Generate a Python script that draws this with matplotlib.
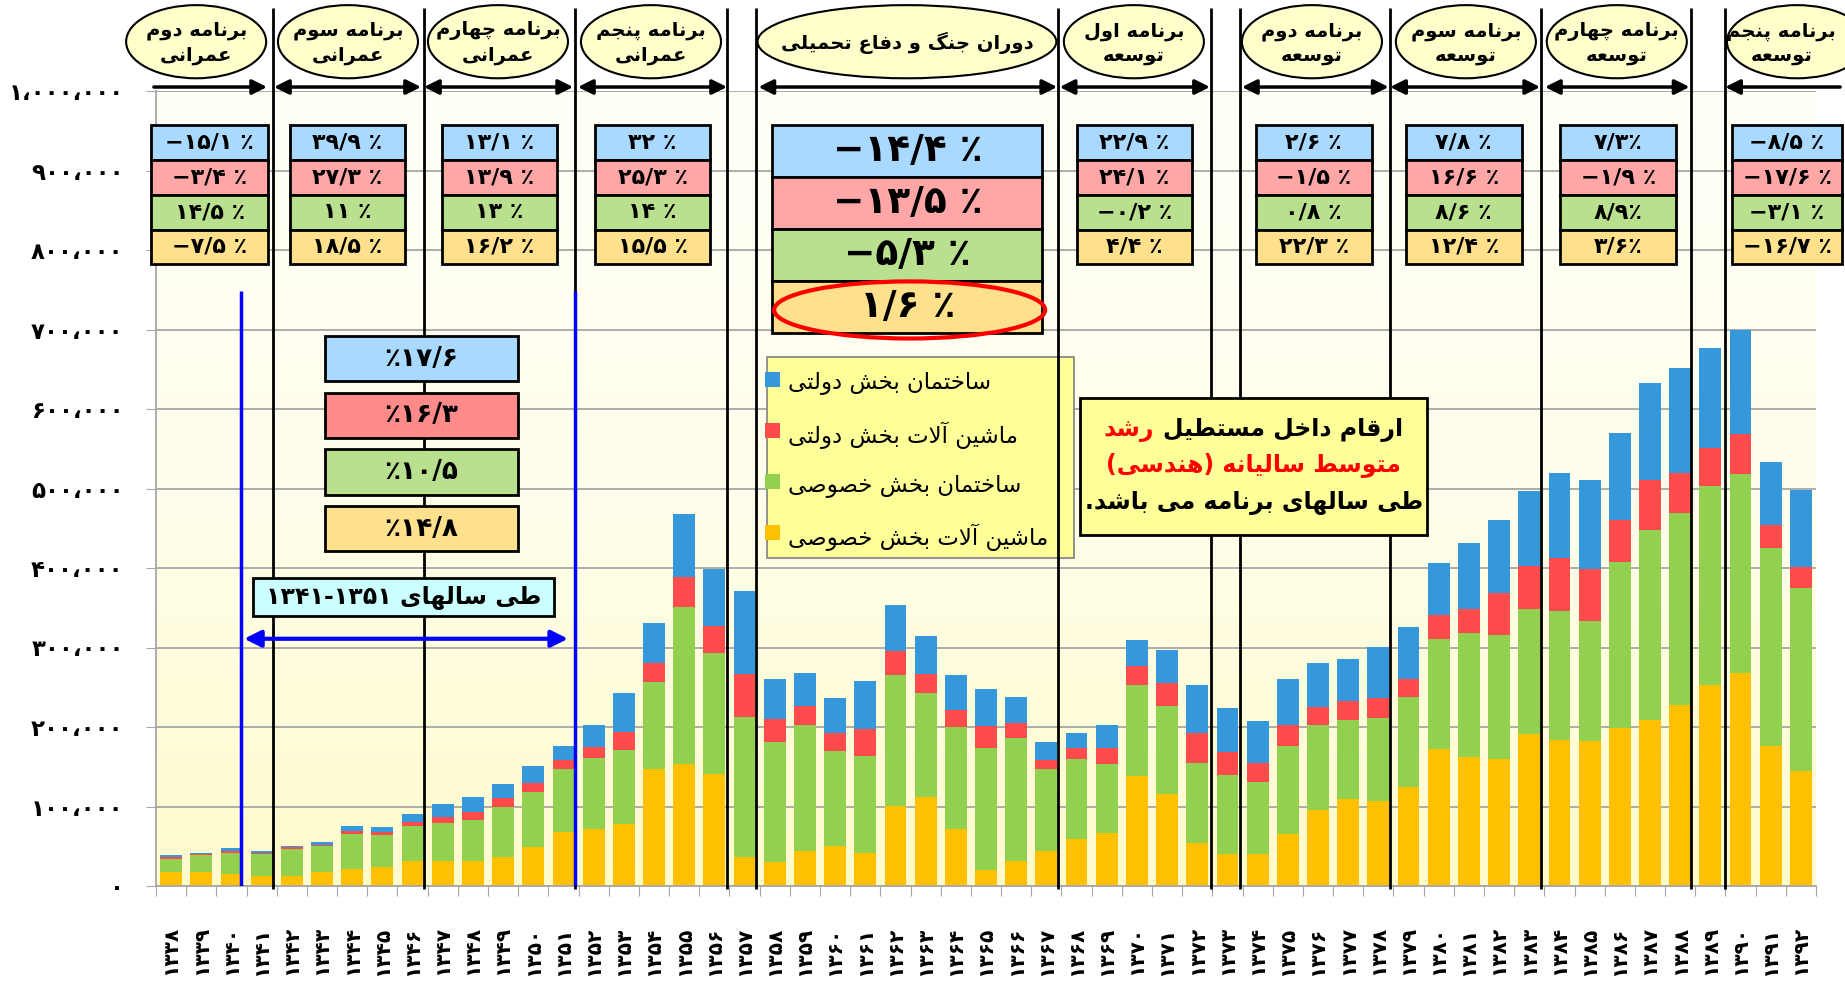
import re
import numpy as np
import matplotlib
matplotlib.use("Agg")
import matplotlib.pyplot as plt
from matplotlib.patches import Rectangle, Ellipse
from matplotlib.colors import LinearSegmentedColormap

plt.rcParams['font.family'] = ['DejaVu Sans']

# data (thousand), 1338..1392
years = list(range(1338, 1393))
priv_mach = [17, 17, 15, 13, 13, 17, 21, 24, 32, 31,
             31, 36, 49, 68, 72, 78, 147, 154, 141, 37,
             30, 44, 50, 42, 101, 112, 72, 20, 32, 44,
             59, 67, 138, 116, 54, 40, 40, 65, 96, 109,
             107, 125, 172, 162, 160, 191, 184, 183, 199, 209,
             228, 253, 268, 176, 145]
priv_cons = [17, 22, 27, 27, 34, 33, 44, 40, 44, 48,
             52, 63, 69, 79, 89, 93, 109, 197, 152, 176,
             151, 159, 120, 121, 164, 131, 128, 154, 154, 103,
             101, 87, 115, 111, 101, 99, 91, 111, 106, 100,
             104, 113, 139, 156, 156, 158, 162, 150, 208, 239,
             241, 250, 250, 249, 230]
gov_mach = [2.5, 1.5, 2.5, 1.5, 1.5, 2, 4.5, 4, 4.5, 8,
            10, 12, 11.5, 12, 14, 23, 25, 38, 34, 54,
            29, 24, 23, 34, 31, 24, 22, 27, 19, 12,
            14, 19, 24, 28, 37, 29, 24, 27, 23, 24,
            26, 22, 30, 31, 52, 54, 67, 66, 54, 63,
            50, 48, 51, 29, 26]
gov_cons = [2.5, 1.5, 3, 3, 2, 3.5, 5.5, 6, 10, 16,
            19, 17, 21, 17, 28, 49, 50, 79, 72, 104,
            51, 41, 43, 61, 57, 48, 43, 47, 33, 22,
            19, 30, 33, 42, 61, 56, 53, 58, 56, 53,
            64, 66, 65, 83, 92, 94, 107, 112, 109, 122,
            132, 126, 130, 79, 97]

series_names = ['ماشین آلات بخش خصوصی', 'ساختمان بخش خصوصی',
                'ماشین آلات بخش دولتی', 'ساختمان بخش دولتی']
bar_colors = ['#FFC000', '#92D050', '#FF4B4B', '#3498DB']
box_colors = ['#A9D9FF', '#FFA6A6', '#B9E08F', '#FFE08C']

# programs: title, growth (blue, red, green, yellow)
programs = [
    ('برنامه دوم\nعمرانی', ['−۱۵/۱ ٪', '−۳/۴ ٪', '۱۴/۵ ٪', '−۷/۵ ٪']),
    ('برنامه سوم\nعمرانی', ['۳۹/۹ ٪', '۲۷/۳ ٪', '۱۱ ٪', '۱۸/۵ ٪']),
    ('برنامه چهارم\nعمرانی', ['۱۳/۱ ٪', '۱۳/۹ ٪', '۱۳ ٪', '۱۶/۲ ٪']),
    ('برنامه پنجم\nعمرانی', ['۳۲ ٪', '۲۵/۳ ٪', '۱۴ ٪', '۱۵/۵ ٪']),
    ('دوران جنگ و دفاع تحمیلی', ['−۱۴/۴ ٪', '−۱۳/۵ ٪', '−۵/۳ ٪', '۱/۶ ٪']),
    ('برنامه اول\nتوسعه', ['۲۲/۹ ٪', '۲۴/۱ ٪', '−۰/۲ ٪', '۴/۴ ٪']),
    ('برنامه دوم\nتوسعه', ['۲/۶ ٪', '−۱/۵ ٪', '۰/۸ ٪', '۲۲/۳ ٪']),
    ('برنامه سوم\nتوسعه', ['۷/۸ ٪', '۱۶/۶ ٪', '۸/۶ ٪', '۱۲/۴ ٪']),
    ('برنامه چهارم\nتوسعه', ['۷/۳٪', '−۱/۹ ٪', '۸/۹٪', '۳/۶٪']),
    ('برنامه پنجم\nتوسعه', ['−۸/۵ ٪', '−۱۷/۶ ٪', '−۳/۱ ٪', '−۱۶/۷ ٪']),
]
growth_4151 = ['٪۱۷/۶', '٪۱۶/۳', '٪۱۰/۵', '٪۱۴/۸']

# --- tiny persian shaper (matplotlib has no bidi / joining) ---
RIGHT = {'ا': 0xFE8D, 'آ': 0xFE81, 'د': 0xFEA9, 'ذ': 0xFEAB, 'ر': 0xFEAD,
         'ز': 0xFEAF, 'ژ': 0xFB8A, 'و': 0xFEED}
DUAL = {'ب': 0xFE8F, 'پ': 0xFB56, 'ت': 0xFE95, 'ث': 0xFE99, 'ج': 0xFE9D,
        'چ': 0xFB7A, 'ح': 0xFEA1, 'خ': 0xFEA5, 'س': 0xFEB1, 'ش': 0xFEB5,
        'ص': 0xFEB9, 'ض': 0xFEBD, 'ط': 0xFEC1, 'ظ': 0xFEC5, 'ع': 0xFEC9,
        'غ': 0xFECD, 'ف': 0xFED1, 'ق': 0xFED5, 'ک': 0xFB8E, 'گ': 0xFB92,
        'ل': 0xFEDD, 'م': 0xFEE1, 'ن': 0xFEE5, 'ه': 0xFEE9, 'ی': 0xFBFC}


def shape(text):
    out = []
    i = 0
    while i < len(text):
        c = text[i]
        prev = text[i - 1] if i > 0 else ''
        nxt = text[i + 1] if i + 1 < len(text) else ''
        jp = int(prev in DUAL)
        if c == 'ل' and nxt in ('ا', 'آ'):
            out.append(chr((0xFEFB if nxt == 'ا' else 0xFEF5) + jp))
            i += 2
            continue
        if c in RIGHT:
            out.append(chr(RIGHT[c] + jp))
        elif c in DUAL:
            jn = int(nxt in DUAL or nxt in RIGHT)
            out.append(chr(DUAL[c] + [[0, 2], [1, 3]][jp][jn]))
        else:
            out.append(c)
        i += 1
    return ''.join(out)


def fa(text):
    lines = []
    for line in text.split('\n'):
        s = shape(line)[::-1]
        s = re.sub(r'[۰-۹0-9/\-]+', lambda m: m.group(0)[::-1], s)
        lines.append(s.translate(str.maketrans('()', ')(')))
    return '\n'.join(lines)


pdig = str.maketrans('0123456789,', '۰۱۲۳۴۵۶۷۸۹،')

fig = plt.figure(figsize=(18.45, 9.83), dpi=100)
ax = fig.add_axes([156 / 1845, 1 - 886 / 983, 1660 / 1845, 795 / 983])
ax.set_xlim(-0.5, 54.5)
ax.set_ylim(0, 1000000)

# background gradient
cmap = LinearSegmentedColormap.from_list('bg', ['#FFFBCC', '#FFFEEC', '#FFFFF8'])
ax.imshow(np.linspace(0, 1, 256).reshape(-1, 1), cmap=cmap, aspect='auto',
          extent=(-0.5, 54.5, 0, 1000000), origin='lower', zorder=0)

x = np.arange(len(years))
bottom = np.zeros(len(years))
for vals, col in zip([priv_mach, priv_cons, gov_mach, gov_cons], bar_colors):
    v = np.array(vals) * 1000
    ax.bar(x, v, width=0.72, bottom=bottom, color=col, zorder=2)
    bottom += v

yt = np.arange(0, 1000001, 100000)
ax.set_yticks(yt)
ax.set_yticklabels([f'{v:,}'.translate(pdig) for v in yt], fontsize=16.5, fontweight='bold')
ax.yaxis.grid(True, color='#A6A6A6', lw=1.3)
ax.set_axisbelow(True)
ax.tick_params(axis='y', length=7.2, color='#A6A6A6', pad=16)

ax.set_xticks(np.arange(-0.5, 55, 1))
ax.set_xticklabels([])
ax.tick_params(axis='x', which='major', length=7.2, color='#A6A6A6')
ax.set_xticks(x, minor=True)
ax.set_xticklabels([str(y).translate(pdig) for y in years], minor=True,
                   rotation=90, fontsize=14.5, fontweight='bold')
ax.tick_params(axis='x', which='minor', length=0, pad=29)
for s in ['top', 'right']:
    ax.spines[s].set_visible(False)
for s in ['left', 'bottom']:
    ax.spines[s].set_color('#A6A6A6')
    ax.spines[s].set_linewidth(1.3)

# program separators
sep_x = [3.38, 8.39, 13.39, 18.41, 19.39, 29.39, 34.45, 35.4, 40.38, 45.39, 50.37, 51.47]
ax.vlines(sep_x, -4000, 1105000, colors='k', lw=2, clip_on=False, zorder=5)

# program arrows
arrows = [(-0.57, 3.18, '-|>'), (3.41, 8.28, '<|-|>'), (8.38, 13.32, '<|-|>'),
          (13.48, 18.42, '<|-|>'), (19.46, 29.36, '<|-|>'), (29.44, 34.42, '<|-|>'),
          (35.48, 40.34, '<|-|>'), (40.39, 45.36, '<|-|>'), (45.52, 50.31, '<|-|>'),
          (51.49, 55.3, '<|-')]
for a, b, st in arrows:
    ax.annotate('', xy=(b, 1005000), xytext=(a, 1005000), annotation_clip=False,
                arrowprops=dict(arrowstyle=st, color='k', lw=2.5, mutation_scale=22,
                                shrinkA=0, shrinkB=0), zorder=6)

# ellipse titles (last one runs off the right edge, keep its text inside)
ell_x = [0.83, 5.86, 10.83, 15.9, 24.38, 31.9, 37.8, 42.9, 47.9, 53.87]
for (title, _), cx in zip(programs, ell_x):
    w = 9.9 if '\n' not in title else 4.64
    ax.add_patch(Ellipse((cx, 1062000), w, 92000, fc='#FFFFCC', ec='k', lw=1.5,
                         clip_on=False, zorder=6))
    ax.text(min(cx, 53.35), 1060000, fa(title), ha='center', va='center', fontsize=14,
            fontweight='bold', linespacing=1.35, zorder=7, clip_on=False)

# growth boxes
box_x = [(-0.65, 3.2), (3.93, 7.76), (8.97, 12.78), (14.05, 17.86), (19.92, 28.87),
         (30.0, 33.83), (35.93, 39.79), (40.91, 44.75), (46.03, 49.86), (51.72, 55.36)]
for (title, vals), (x0, x1) in zip(programs, box_x):
    big = '\n' not in title
    h = 65500 if big else 43750
    for k, (txt, fc) in enumerate(zip(vals, box_colors)):
        top = 957000 - k * h
        ax.add_patch(Rectangle((x0, top - h), x1 - x0, h, fc=fc, ec='k', lw=2,
                               clip_on=False, zorder=7))
        ax.text((x0 + x1) / 2, top - h / 2, txt, ha='center', va='center',
                fontsize=27 if big else 16, fontweight='bold', zorder=8, clip_on=False)

ax.add_patch(Ellipse((24.47, 724600), 8.98, 71800, fill=False, ec='#FF0000', lw=3,
                     zorder=9))

# 1341-1351 block
for k, (txt, fc) in enumerate(zip(growth_4151, ['#A9D9FF', '#FF8A8A', '#B9E08F', '#FFE08C'])):
    top = 692000 - k * 71300
    ax.add_patch(Rectangle((5.1, top - 57300), 6.41, 57300, fc=fc, ec='k', lw=2, zorder=7))
    ax.text(8.3, top - 28650, txt, ha='center', va='center', fontsize=19,
            fontweight='bold', zorder=8)
ax.add_patch(Rectangle((2.71, 339000), 9.98, 49000, fc='#CCFFFF', ec='k', lw=2, zorder=7))
ax.text(7.7, 363500, '۱۳۴۱-۱۳۵۱ ' + fa('طی سالهای'), ha='center', va='center',
        fontsize=17, fontweight='bold', zorder=8)
ax.vlines([2.32, 13.38], 0, 748000, colors='#0000FF', lw=2.5, zorder=6)
ax.annotate('', xy=(13.15, 311000), xytext=(2.42, 311000),
            arrowprops=dict(arrowstyle='<|-|>', color='#0000FF', lw=3, mutation_scale=25,
                            shrinkA=0, shrinkB=0), zorder=6)

# legend
ax.add_patch(Rectangle((19.75, 412000), 10.15, 254000, fc='#FFFF99', ec='#808080',
                       lw=1.2, zorder=4))
leg_y = [632000, 567000, 503000, 439000]
for name, col, yy in zip(series_names[::-1], bar_colors[::-1], leg_y):
    ax.add_patch(Rectangle((19.68, yy - 4000), 0.5, 19000, fc=col, ec='none', zorder=4))
    ax.text(20.44, yy, fa(name), ha='left', va='center', fontsize=16.5, zorder=4)

# note box
ax.add_patch(Rectangle((30.12, 441000), 11.5, 173000, fc='#FFFF99', ec='k', lw=2, zorder=7))
cx = 35.87
t_red = ax.text(cx, 574000, fa('رشد'), ha='right', va='center', fontsize=17,
                fontweight='bold', color='#FF0000', zorder=8)
t_blk = ax.text(cx, 574000, fa('ارقام داخل مستطیل'), ha='left', va='center', fontsize=17,
                fontweight='bold', zorder=8)
ax.text(cx, 530000, fa('متوسط سالیانه (هندسی)'), ha='center', va='center', fontsize=17,
        fontweight='bold', color='#FF0000', zorder=8)
ax.text(cx, 482000, fa('طی سالهای برنامه می باشد.'), ha='center', va='center', fontsize=17,
        fontweight='bold', zorder=8)

fig.canvas.draw()
r = fig.canvas.get_renderer()
wr = t_red.get_window_extent(r).width
wb = t_blk.get_window_extent(r).width
gap = 9
cpx = ax.transData.transform((cx, 0))[0]
left = cpx - (wr + gap + wb) / 2
inv = ax.transData.inverted()
t_red.set_x(inv.transform((left + wr, 0))[0])
t_blk.set_x(inv.transform((left + wr + gap, 0))[0])

fig.savefig('out.png', dpi=100)
